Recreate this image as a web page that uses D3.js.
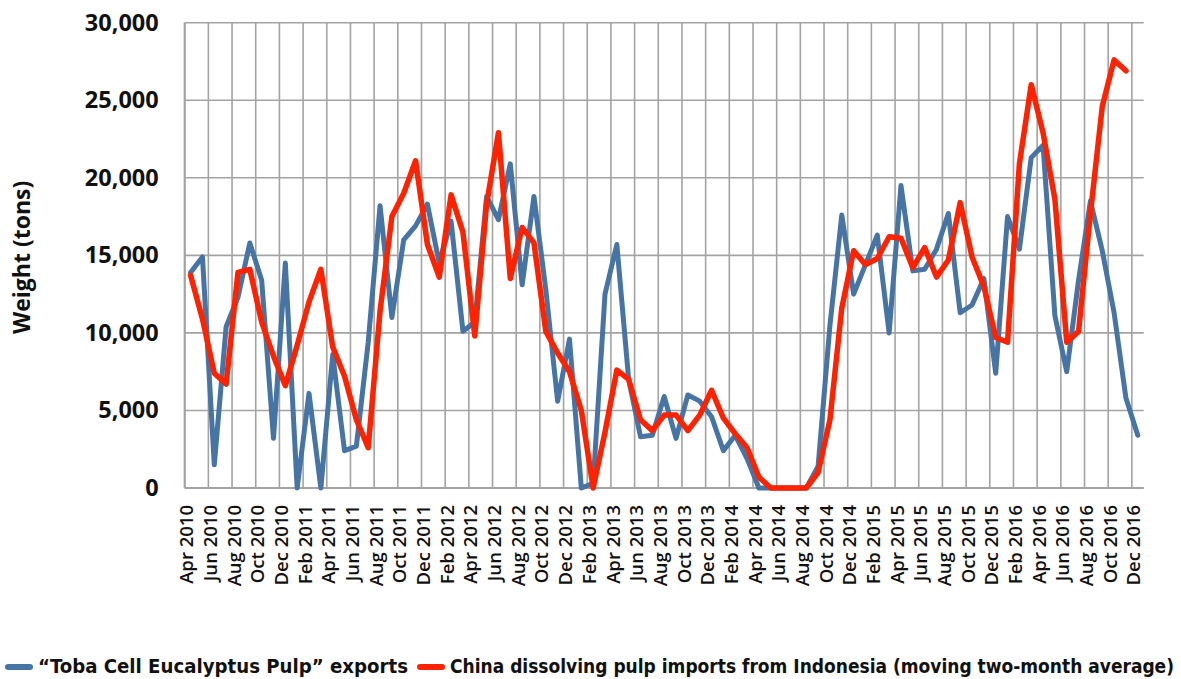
<!DOCTYPE html>
<html>
<head>
<meta charset="utf-8">
<script src="https://cdn.jsdelivr.net/npm/d3@7"></script>
<style>
  body { margin: 0; background: #fff; }
  svg { display: block; }
</style>
</head>
<body>
<script>
// month categories, Apr 2010 .. Dec 2016
var categories = [
  "Apr 2010","May 2010","Jun 2010","Jul 2010","Aug 2010","Sep 2010","Oct 2010","Nov 2010","Dec 2010",
  "Jan 2011","Feb 2011","Mar 2011","Apr 2011","May 2011","Jun 2011","Jul 2011","Aug 2011","Sep 2011","Oct 2011","Nov 2011","Dec 2011",
  "Jan 2012","Feb 2012","Mar 2012","Apr 2012","May 2012","Jun 2012","Jul 2012","Aug 2012","Sep 2012","Oct 2012","Nov 2012","Dec 2012",
  "Jan 2013","Feb 2013","Mar 2013","Apr 2013","May 2013","Jun 2013","Jul 2013","Aug 2013","Sep 2013","Oct 2013","Nov 2013","Dec 2013",
  "Jan 2014","Feb 2014","Mar 2014","Apr 2014","May 2014","Jun 2014","Jul 2014","Aug 2014","Sep 2014","Oct 2014","Nov 2014","Dec 2014",
  "Jan 2015","Feb 2015","Mar 2015","Apr 2015","May 2015","Jun 2015","Jul 2015","Aug 2015","Sep 2015","Oct 2015","Nov 2015","Dec 2015",
  "Jan 2016","Feb 2016","Mar 2016","Apr 2016","May 2016","Jun 2016","Jul 2016","Aug 2016","Sep 2016","Oct 2016","Nov 2016","Dec 2016"
];

// "Toba Cell Eucalyptus Pulp" exports (tons)
var tobaExports = [
  13900, 14900, 1500, 10400, 12300, 15800, 13400, 3200, 14500,
  0, 6100, 0, 8600, 2400, 2700, 9400, 18200, 11000, 16000, 16900, 18300,
  14500, 17200, 10100, 10700, 18800, 17300, 20900, 13100, 18800, 12800, 5600, 9600,
  0, 300, 12500, 15700, 7000, 3300, 3400, 5900, 3200, 6000, 5600, 4600,
  2400, 3400, 1900, 0, 0, 0, 0, 0, 1400, 10500, 17600, 12500,
  14400, 16300, 10000, 19500, 14000, 14100, 15400, 17700, 11300, 11800, 13500, 7400,
  17500, 15400, 21300, 22100, 11100, 7500, 13400, 18500, 15300, 11300, 5800, 3400
];

// China dissolving pulp imports from Indonesia, moving two-month average (tons)
var chinaImports = [
  13700, 10900, 7400, 6700, 13900, 14100, 10700, 8500, 6600,
  9200, 12000, 14100, 9100, 7200, 4400, 2600, 11400, 17500, 19000, 21100, 15700,
  13600, 18900, 16500, 9800, 18300, 22900, 13500, 16800, 15800, 10100, 8700, 7500,
  5000, 0, 3600, 7600, 7000, 4400, 3700, 4700, 4700, 3700, 4700, 6300,
  4500, 3500, 2600, 700, 0, 0, 0, 0, 1000, 4400, 11600, 15300,
  14400, 14800, 16200, 16100, 14200, 15500, 13600, 14700, 18400, 14900, 13000, 9700,
  9400, 20900, 26000, 22900, 18600, 9400, 10100, 17700, 24600, 27600, 26900, null
];

var yTicks = [0, 5000, 10000, 15000, 20000, 25000, 30000];
var seriesNames = ["\u201CToba Cell Eucalyptus Pulp\u201D exports",
                   "China dissolving pulp imports from Indonesia (moving two-month average)"];
var seriesColors = ["#4674a4", "#ff2200"];

var W = 1181, H = 679;
var margin = {top: 22.7, right: 37.3, bottom: 191, left: 184.7};
var iw = W - margin.left - margin.right,
    ih = H - margin.top - margin.bottom;

var svg = d3.select("body").append("svg")
    .attr("width", W)
    .attr("height", H);

var g = svg.append("g")
    .attr("transform", "translate(" + margin.left + "," + margin.top + ")");

var x = d3.scaleBand().domain(categories).range([0, iw]).padding(0);
var y = d3.scaleLinear().domain([0, 30000]).range([ih, 0]);

var gridColor = "#a3a3a3";

// horizontal gridlines
g.selectAll("line.hgrid")
    .data(yTicks)
    .enter().append("line")
    .attr("class", "hgrid")
    .attr("x1", 0).attr("x2", iw)
    .attr("y1", function(d) { return y(d); })
    .attr("y2", function(d) { return y(d); })
    .attr("stroke", gridColor)
    .attr("stroke-width", 1.6);

// vertical gridlines every second month boundary
var vIdx = d3.range(0, categories.length, 2);
g.selectAll("line.vgrid")
    .data(vIdx)
    .enter().append("line")
    .attr("class", "vgrid")
    .attr("x1", function(i) { return x(categories[i]); })
    .attr("x2", function(i) { return x(categories[i]); })
    .attr("y1", 0).attr("y2", ih)
    .attr("stroke", gridColor)
    .attr("stroke-width", 1.6);

// axis lines
g.append("line").attr("x1", 0).attr("x2", 0).attr("y1", 0).attr("y2", ih)
    .attr("stroke", gridColor).attr("stroke-width", 2);
g.append("line").attr("x1", 0).attr("x2", iw).attr("y1", ih).attr("y2", ih)
    .attr("stroke", gridColor).attr("stroke-width", 2);

// y axis
var yAxis = d3.axisLeft(y).tickValues(yTicks).tickFormat(d3.format(",")).tickSize(0).tickPadding(26);
g.append("g").call(yAxis)
    .call(function(s) { s.select(".domain").remove(); })
    .selectAll("text")
    .attr("font-family", "'Open Sans', sans-serif")
    .attr("font-weight", "bold")
    .attr("font-size", "23.5px")
    .attr("fill", "#111");

// x axis labels (every other month)
var labelIdx = d3.range(0, categories.length, 2);
g.selectAll("text.xlab")
    .data(labelIdx)
    .enter().append("text")
    .attr("class", "xlab")
    .attr("transform", function(i) {
        var cx = x(categories[i]) + x.bandwidth() / 2 - 4;
        return "translate(" + cx + "," + (ih + 17) + ") rotate(-90)";
    })
    .attr("dy", "0.36em")
    .attr("text-anchor", "end")
    .attr("font-family", "'Open Sans', sans-serif")
    .attr("font-weight", 600)
    .attr("font-size", "18.5px")
    .attr("fill", "#111")
    .text(function(i) { return categories[i]; });

// y axis title
svg.append("text")
    .attr("transform", "translate(30," + (margin.top + ih / 2 + 2) + ") rotate(-90)")
    .attr("text-anchor", "middle")
    .attr("font-family", "'Open Sans', sans-serif")
    .attr("font-weight", "bold")
    .attr("font-size", "23px")
    .attr("fill", "#111")
    .text("Weight (tons)");

// lines
var line = d3.line()
    .defined(function(d) { return d != null; })
    .x(function(d, i) { return x(categories[i]) + x.bandwidth() / 2; })
    .y(function(d) { return y(d); });

[tobaExports, chinaImports].forEach(function(vals, k) {
    g.append("path")
        .datum(vals)
        .attr("fill", "none")
        .attr("stroke", seriesColors[k])
        .attr("stroke-width", k === 1 ? 5.5 : 5)
        .attr("stroke-linejoin", "round")
        .attr("stroke-linecap", "round")
        .attr("d", line);
});

// legend
var legend = svg.append("g").attr("transform", "translate(0,664)");
var legX = [8, 420];
var legTextW = [370, 724];
seriesNames.forEach(function(name, k) {
    legend.append("line")
        .attr("x1", legX[k]).attr("x2", legX[k] + 22)
        .attr("y1", 3).attr("y2", 3)
        .attr("stroke", seriesColors[k])
        .attr("stroke-width", 6)
        .attr("stroke-linecap", "round");
    legend.append("text")
        .attr("x", legX[k] + 30)
        .attr("y", 2)
        .attr("dy", "0.35em")
        .attr("font-family", "'DejaVu Sans Condensed', 'Liberation Sans Narrow', sans-serif")
        .attr("font-weight", "bold")
        .attr("font-size", "19px")
        .attr("textLength", legTextW[k])
        .attr("lengthAdjust", "spacingAndGlyphs")
        .attr("fill", "#111")
        .text(name);
});
</script>
</body>
</html>
